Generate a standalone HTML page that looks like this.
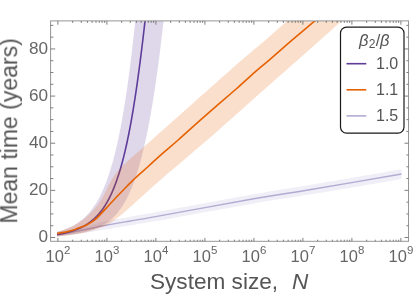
<!DOCTYPE html><html><head><meta charset="utf-8"><style>
html,body{margin:0;padding:0;background:#fff}
body{width:415px;height:296px;position:relative;overflow:hidden;font-family:"Liberation Sans",sans-serif;color:#666}
.t{position:absolute;white-space:nowrap;line-height:1;will-change:transform}
.yl{font-size:16.5px;text-align:right;width:40px;left:7.7px;transform-origin:100% 50%;transform:scaleX(1.04)}
.xl{font-size:16.5px;transform:translateX(-50%)}
.xl sup{font-size:11.5px;position:relative;top:-8.5px;vertical-align:baseline;margin-left:0px}
.ax{font-size:22.6px;color:#555}
.lg{font-size:16px;color:#555}
</style></head><body>
<svg width="415" height="296" viewBox="0 0 415 296" style="position:absolute;left:0;top:0">
<defs><clipPath id="c"><rect x="50.60" y="20.90" width="357.90" height="220.40"/></clipPath></defs>
<g clip-path="url(#c)">
<path d="M57.00,231.90 C60.83,231.25 72.52,229.65 80.00,228.00 C87.48,226.35 90.23,224.45 101.90,222.00 C113.57,219.55 124.69,217.92 150.00,213.30 C175.31,208.68 226.92,199.05 253.75,194.30 C280.58,189.55 286.38,188.98 311.00,184.80 C335.62,180.62 386.42,171.80 401.50,169.20 L401.50,178.90 C386.42,181.47 335.62,190.22 311.00,194.30 C286.38,198.38 280.58,198.78 253.75,203.40 C226.92,208.02 175.31,217.55 150.00,222.00 C124.69,226.45 113.57,228.13 101.90,230.10 C90.23,232.07 87.48,232.72 80.00,233.80 C72.52,234.88 60.83,236.13 57.00,236.60 Z" fill="#b2abd2" fill-opacity="0.2"/>
<path d="M57.10,234.70 C59.04,234.40 64.72,233.63 68.75,232.90 C72.78,232.17 77.08,231.15 81.25,230.30 C85.42,229.45 90.31,228.52 93.75,227.80 C97.19,227.08 96.69,226.98 101.90,226.00 C107.11,225.02 116.98,223.30 125.00,221.90 C133.02,220.50 128.54,221.45 150.00,217.60 C171.46,213.75 226.92,203.48 253.75,198.80 C280.58,194.12 286.38,193.63 311.00,189.50 C335.62,185.37 386.42,176.58 401.50,174.00" fill="none" stroke="#b2abd2" stroke-width="1.4"/>
<path d="M57.00,231.91 C57.08,231.89 57.33,231.82 57.50,231.78 C57.67,231.73 57.83,231.69 58.00,231.64 C58.17,231.59 58.33,231.54 58.50,231.50 C58.67,231.45 58.83,231.40 59.00,231.35 C59.17,231.30 59.33,231.25 59.50,231.20 C59.67,231.15 59.83,231.10 60.00,231.05 C60.17,231.00 60.33,230.95 60.50,230.89 C60.67,230.84 60.83,230.79 61.00,230.74 C61.17,230.68 61.33,230.63 61.50,230.57 C61.67,230.52 61.83,230.47 62.00,230.41 C62.17,230.35 62.33,230.30 62.50,230.24 C62.67,230.18 62.83,230.13 63.00,230.07 C63.17,230.01 63.33,229.95 63.50,229.89 C63.67,229.83 63.83,229.77 64.00,229.71 C64.17,229.65 64.33,229.59 64.50,229.53 C64.67,229.47 64.83,229.40 65.00,229.34 C65.17,229.28 65.33,229.21 65.50,229.15 C65.67,229.08 65.83,229.02 66.00,228.95 C66.17,228.89 66.33,228.82 66.50,228.75 C66.67,228.68 66.83,228.62 67.00,228.55 C67.17,228.48 67.33,228.41 67.50,228.34 C67.67,228.27 67.83,228.20 68.00,228.12 C68.17,228.05 68.33,227.98 68.50,227.90 C68.67,227.83 68.83,227.76 69.00,227.68 C69.17,227.60 69.33,227.53 69.50,227.45 C69.67,227.37 69.83,227.30 70.00,227.22 C70.17,227.14 70.33,227.06 70.50,226.98 C70.67,226.90 70.83,226.82 71.00,226.73 C71.17,226.65 71.33,226.57 71.50,226.48 C71.67,226.40 71.83,226.31 72.00,226.23 C72.17,226.14 72.33,226.05 72.50,225.96 C72.67,225.88 72.83,225.79 73.00,225.70 C73.17,225.61 73.33,225.52 73.50,225.42 C73.67,225.33 73.83,225.24 74.00,225.14 C74.17,225.05 74.33,224.95 74.50,224.86 C74.67,224.76 74.83,224.66 75.00,224.56 C75.17,224.46 75.33,224.36 75.50,224.26 C75.67,224.16 75.83,224.06 76.00,223.95 C76.17,223.85 76.33,223.75 76.50,223.64 C76.67,223.53 76.83,223.43 77.00,223.32 C77.17,223.21 77.33,223.10 77.50,222.99 C77.67,222.88 77.83,222.77 78.00,222.65 C78.17,222.54 78.33,222.42 78.50,222.31 C78.67,222.19 78.83,222.07 79.00,221.95 C79.17,221.84 79.33,221.71 79.50,221.59 C79.67,221.47 79.83,221.35 80.00,221.22 C80.17,221.10 80.33,220.97 80.50,220.84 C80.67,220.72 80.83,220.59 81.00,220.46 C81.17,220.33 81.33,220.19 81.50,220.06 C81.67,219.93 81.83,219.79 82.00,219.65 C82.17,219.52 82.33,219.38 82.50,219.24 C82.67,219.10 82.83,218.96 83.00,218.81 C83.17,218.67 83.33,218.52 83.50,218.38 C83.67,218.23 83.83,218.08 84.00,217.93 C84.17,217.78 84.33,217.63 84.50,217.47 C84.67,217.32 84.83,217.16 85.00,217.00 C85.17,216.85 85.33,216.69 85.50,216.52 C85.67,216.36 85.83,216.20 86.00,216.03 C86.17,215.87 86.33,215.70 86.50,215.53 C86.67,215.36 86.83,215.19 87.00,215.02 C87.17,214.84 87.33,214.67 87.50,214.49 C87.67,214.31 87.83,214.13 88.00,213.95 C88.17,213.77 88.33,213.58 88.50,213.40 C88.67,213.21 88.83,213.02 89.00,212.83 C89.17,212.64 89.33,212.44 89.50,212.25 C89.67,212.05 89.83,211.85 90.00,211.65 C90.17,211.45 90.33,211.25 90.50,211.04 C90.67,210.84 90.83,210.63 91.00,210.42 C91.17,210.21 91.33,210.00 91.50,209.78 C91.67,209.57 91.83,209.35 92.00,209.13 C92.17,208.91 92.33,208.68 92.50,208.46 C92.67,208.23 92.83,208.00 93.00,207.77 C93.17,207.54 93.33,207.30 93.50,207.06 C93.67,206.83 93.83,206.59 94.00,206.34 C94.17,206.10 94.33,205.85 94.50,205.60 C94.67,205.36 94.83,205.10 95.00,204.85 C95.17,204.59 95.33,204.33 95.50,204.07 C95.67,203.81 95.83,203.55 96.00,203.28 C96.17,203.01 96.33,202.74 96.50,202.46 C96.67,202.19 96.83,201.91 97.00,201.63 C97.17,201.35 97.33,201.06 97.50,200.77 C97.67,200.49 97.83,200.19 98.00,199.90 C98.17,199.60 98.33,199.30 98.50,199.00 C98.67,198.70 98.83,198.39 99.00,198.08 C99.17,197.77 99.33,197.46 99.50,197.14 C99.67,196.82 99.83,196.50 100.00,196.18 C100.17,195.85 100.33,195.52 100.50,195.19 C100.67,194.85 100.83,194.52 101.00,194.17 C101.17,193.83 101.33,193.49 101.50,193.14 C101.67,192.79 101.83,192.43 102.00,192.07 C102.17,191.71 102.33,191.35 102.50,190.98 C102.67,190.62 102.83,190.24 103.00,189.87 C103.17,189.49 103.33,189.11 103.50,188.72 C103.67,188.34 103.83,187.95 104.00,187.55 C104.17,187.16 104.33,186.76 104.50,186.35 C104.67,185.95 104.83,185.54 105.00,185.12 C105.17,184.71 105.33,184.29 105.50,183.86 C105.67,183.44 105.83,183.01 106.00,182.57 C106.17,182.14 106.33,181.70 106.50,181.25 C106.67,180.80 106.83,180.35 107.00,179.89 C107.17,179.44 107.33,178.97 107.50,178.51 C107.67,178.04 107.83,177.56 108.00,177.09 C108.17,176.61 108.33,176.12 108.50,175.63 C108.67,175.14 108.83,174.64 109.00,174.14 C109.17,173.63 109.33,173.13 109.50,172.61 C109.67,172.09 109.83,171.57 110.00,171.04 C110.17,170.52 110.33,169.98 110.50,169.44 C110.67,168.90 110.83,168.35 111.00,167.80 C111.17,167.25 111.33,166.69 111.50,166.12 C111.67,165.55 111.83,164.98 112.00,164.40 C112.17,163.82 112.33,163.23 112.50,162.63 C112.67,162.04 112.83,161.44 113.00,160.83 C113.17,160.22 113.33,159.60 113.50,158.98 C113.67,158.36 113.83,157.73 114.00,157.09 C114.17,156.45 114.33,155.80 114.50,155.15 C114.67,154.49 114.83,153.83 115.00,153.16 C115.17,152.49 115.33,151.82 115.50,151.13 C115.67,150.45 115.83,149.75 116.00,149.05 C116.17,148.35 116.33,147.64 116.50,146.92 C116.67,146.21 116.83,145.48 117.00,144.74 C117.17,144.01 117.33,143.27 117.50,142.51 C117.67,141.76 117.83,141.00 118.00,140.23 C118.17,139.46 118.33,138.68 118.50,137.89 C118.67,137.11 118.83,136.31 119.00,135.50 C119.17,134.70 119.33,133.88 119.50,133.06 C119.67,132.23 119.83,131.40 120.00,130.55 C120.17,129.71 120.33,128.86 120.50,127.99 C120.67,127.13 120.83,126.26 121.00,125.37 C121.17,124.49 121.33,123.60 121.50,122.69 C121.67,121.79 121.83,120.87 122.00,119.95 C122.17,119.03 122.33,118.09 122.50,117.15 C122.67,116.20 122.83,115.25 123.00,114.28 C123.17,113.31 123.33,112.33 123.50,111.35 C123.67,110.36 123.83,109.36 124.00,108.35 C124.17,107.34 124.33,106.32 124.50,105.28 C124.67,104.25 124.83,103.20 125.00,102.15 C125.17,101.09 125.33,100.02 125.50,98.95 C125.67,97.87 125.83,96.77 126.00,95.67 C126.17,94.57 126.33,93.45 126.50,92.33 C126.67,91.20 126.83,90.06 127.00,88.91 C127.17,87.75 127.33,86.59 127.50,85.41 C127.67,84.24 127.83,83.05 128.00,81.84 C128.17,80.64 128.33,79.43 128.50,78.20 C128.67,76.97 128.83,75.73 129.00,74.47 C129.17,73.22 129.33,71.95 129.50,70.67 C129.67,69.39 129.83,68.09 130.00,66.79 C130.17,65.48 130.33,64.16 130.50,62.82 C130.67,61.49 130.83,60.14 131.00,58.77 C131.17,57.41 131.33,56.03 131.50,54.64 C131.67,53.25 131.83,51.85 132.00,50.43 C132.17,49.01 132.33,47.57 132.50,46.12 C132.67,44.67 132.83,43.21 133.00,41.73 C133.17,40.25 133.33,38.76 133.50,37.25 C133.67,35.75 133.83,34.22 134.00,32.69 C134.17,31.15 134.33,29.60 134.50,28.03 C134.67,26.46 134.83,24.88 135.00,23.28 C135.17,21.68 135.33,20.06 135.50,18.44 C135.67,16.81 135.83,15.16 136.00,13.50 C136.17,11.84 136.42,9.31 136.50,8.47 L165.00,6.99 C164.92,7.80 164.67,10.21 164.50,11.80 C164.33,13.39 164.17,14.96 164.00,16.51 C163.83,18.07 163.67,19.61 163.50,21.14 C163.33,22.67 163.17,24.18 163.00,25.68 C162.83,27.18 162.67,28.66 162.50,30.13 C162.33,31.60 162.17,33.06 162.00,34.50 C161.83,35.95 161.67,37.37 161.50,38.79 C161.33,40.21 161.17,41.61 161.00,43.00 C160.83,44.39 160.67,45.77 160.50,47.13 C160.33,48.49 160.17,49.85 160.00,51.18 C159.83,52.52 159.67,53.85 159.50,55.16 C159.33,56.48 159.17,57.78 159.00,59.07 C158.83,60.36 158.67,61.63 158.50,62.90 C158.33,64.16 158.17,65.42 158.00,66.66 C157.83,67.90 157.67,69.13 157.50,70.35 C157.33,71.57 157.17,72.77 157.00,73.97 C156.83,75.16 156.67,76.35 156.50,77.52 C156.33,78.70 156.17,79.86 156.00,81.01 C155.83,82.16 155.67,83.30 155.50,84.43 C155.33,85.56 155.17,86.68 155.00,87.79 C154.83,88.89 154.67,89.99 154.50,91.08 C154.33,92.16 154.17,93.24 154.00,94.31 C153.83,95.37 153.67,96.43 153.50,97.48 C153.33,98.52 153.17,99.56 153.00,100.58 C152.83,101.61 152.67,102.63 152.50,103.63 C152.33,104.64 152.17,105.63 152.00,106.62 C151.83,107.61 151.67,108.58 151.50,109.55 C151.33,110.52 151.17,111.48 151.00,112.43 C150.83,113.38 150.67,114.32 150.50,115.25 C150.33,116.18 150.17,117.10 150.00,118.01 C149.83,118.92 149.67,119.82 149.50,120.72 C149.33,121.61 149.17,122.50 149.00,123.37 C148.83,124.25 148.67,125.12 148.50,125.97 C148.33,126.83 148.17,127.68 148.00,128.52 C147.83,129.37 147.67,130.20 147.50,131.02 C147.33,131.85 147.17,132.66 147.00,133.47 C146.83,134.28 146.67,135.08 146.50,135.87 C146.33,136.66 146.17,137.44 146.00,138.22 C145.83,138.99 145.67,139.76 145.50,140.52 C145.33,141.28 145.17,142.03 145.00,142.78 C144.83,143.52 144.67,144.25 144.50,144.98 C144.33,145.71 144.17,146.43 144.00,147.14 C143.83,147.86 143.67,148.56 143.50,149.26 C143.33,149.96 143.17,150.65 143.00,151.33 C142.83,152.01 142.67,152.69 142.50,153.36 C142.33,154.03 142.17,154.69 142.00,155.34 C141.83,156.00 141.67,156.64 141.50,157.29 C141.33,157.93 141.17,158.56 141.00,159.19 C140.83,159.81 140.67,160.43 140.50,161.04 C140.33,161.66 140.17,162.26 140.00,162.86 C139.83,163.46 139.67,164.06 139.50,164.64 C139.33,165.23 139.17,165.81 139.00,166.38 C138.83,166.96 138.67,167.52 138.50,168.08 C138.33,168.64 138.17,169.20 138.00,169.75 C137.83,170.30 137.67,170.84 137.50,171.37 C137.33,171.91 137.17,172.44 137.00,172.96 C136.83,173.49 136.67,174.01 136.50,174.52 C136.33,175.03 136.17,175.54 136.00,176.04 C135.83,176.54 135.67,177.03 135.50,177.52 C135.33,178.01 135.17,178.50 135.00,178.97 C134.83,179.45 134.67,179.92 134.50,180.39 C134.33,180.86 134.17,181.32 134.00,181.78 C133.83,182.23 133.67,182.68 133.50,183.13 C133.33,183.57 133.17,184.01 133.00,184.45 C132.83,184.89 132.67,185.32 132.50,185.74 C132.33,186.17 132.17,186.59 132.00,187.00 C131.83,187.42 131.67,187.83 131.50,188.23 C131.33,188.64 131.17,189.04 131.00,189.43 C130.83,189.83 130.67,190.22 130.50,190.61 C130.33,190.99 130.17,191.37 130.00,191.75 C129.83,192.13 129.67,192.50 129.50,192.87 C129.33,193.24 129.17,193.60 129.00,193.96 C128.83,194.32 128.67,194.67 128.50,195.03 C128.33,195.38 128.17,195.72 128.00,196.06 C127.83,196.41 127.67,196.74 127.50,197.08 C127.33,197.41 127.17,197.74 127.00,198.07 C126.83,198.39 126.67,198.72 126.50,199.03 C126.33,199.35 126.17,199.66 126.00,199.97 C125.83,200.28 125.67,200.59 125.50,200.89 C125.33,201.20 125.17,201.49 125.00,201.79 C124.83,202.08 124.67,202.37 124.50,202.66 C124.33,202.95 124.17,203.23 124.00,203.51 C123.83,203.79 123.67,204.07 123.50,204.35 C123.33,204.62 123.17,204.89 123.00,205.16 C122.83,205.42 122.67,205.69 122.50,205.95 C122.33,206.21 122.17,206.46 122.00,206.72 C121.83,206.97 121.67,207.22 121.50,207.47 C121.33,207.71 121.17,207.96 121.00,208.20 C120.83,208.44 120.67,208.68 120.50,208.91 C120.33,209.15 120.17,209.38 120.00,209.61 C119.83,209.84 119.67,210.06 119.50,210.29 C119.33,210.51 119.17,210.73 119.00,210.95 C118.83,211.16 118.67,211.38 118.50,211.59 C118.33,211.80 118.17,212.01 118.00,212.22 C117.83,212.43 117.67,212.63 117.50,212.83 C117.33,213.03 117.17,213.23 117.00,213.43 C116.83,213.62 116.67,213.82 116.50,214.01 C116.33,214.20 116.17,214.39 116.00,214.57 C115.83,214.76 115.67,214.94 115.50,215.13 C115.33,215.31 115.17,215.49 115.00,215.66 C114.83,215.84 114.67,216.02 114.50,216.19 C114.33,216.36 114.17,216.53 114.00,216.70 C113.83,216.87 113.67,217.03 113.50,217.20 C113.33,217.36 113.17,217.52 113.00,217.68 C112.83,217.84 112.67,218.00 112.50,218.15 C112.33,218.31 112.17,218.46 112.00,218.61 C111.83,218.76 111.67,218.91 111.50,219.06 C111.33,219.21 111.17,219.35 111.00,219.50 C110.83,219.64 110.67,219.78 110.50,219.92 C110.33,220.06 110.17,220.20 110.00,220.34 C109.83,220.47 109.67,220.61 109.50,220.74 C109.33,220.87 109.17,221.00 109.00,221.13 C108.83,221.26 108.67,221.39 108.50,221.52 C108.33,221.64 108.17,221.77 108.00,221.89 C107.83,222.01 107.67,222.13 107.50,222.25 C107.33,222.37 107.17,222.49 107.00,222.61 C106.83,222.73 106.67,222.84 106.50,222.95 C106.33,223.07 106.17,223.18 106.00,223.29 C105.83,223.40 105.67,223.51 105.50,223.62 C105.33,223.73 105.17,223.83 105.00,223.94 C104.83,224.04 104.67,224.15 104.50,224.25 C104.33,224.35 104.17,224.45 104.00,224.55 C103.83,224.65 103.67,224.75 103.50,224.85 C103.33,224.95 103.17,225.04 103.00,225.14 C102.83,225.23 102.67,225.33 102.50,225.42 C102.33,225.51 102.17,225.60 102.00,225.69 C101.83,225.78 101.67,225.87 101.50,225.96 C101.33,226.05 101.17,226.13 101.00,226.22 C100.83,226.31 100.67,226.39 100.50,226.47 C100.33,226.56 100.17,226.64 100.00,226.72 C99.83,226.80 99.67,226.88 99.50,226.96 C99.33,227.04 99.17,227.12 99.00,227.20 C98.83,227.27 98.67,227.35 98.50,227.43 C98.33,227.50 98.17,227.58 98.00,227.65 C97.83,227.72 97.67,227.80 97.50,227.87 C97.33,227.94 97.17,228.01 97.00,228.08 C96.83,228.15 96.67,228.22 96.50,228.29 C96.33,228.36 96.17,228.42 96.00,228.49 C95.83,228.56 95.67,228.62 95.50,228.69 C95.33,228.75 95.17,228.82 95.00,228.88 C94.83,228.94 94.67,229.01 94.50,229.07 C94.33,229.13 94.17,229.19 94.00,229.25 C93.83,229.31 93.67,229.37 93.50,229.43 C93.33,229.49 93.17,229.55 93.00,229.61 C92.83,229.66 92.67,229.72 92.50,229.78 C92.33,229.83 92.17,229.89 92.00,229.94 C91.83,230.00 91.67,230.05 91.50,230.11 C91.33,230.16 91.17,230.21 91.00,230.26 C90.83,230.32 90.67,230.37 90.50,230.42 C90.33,230.47 90.17,230.52 90.00,230.57 C89.83,230.62 89.67,230.67 89.50,230.72 C89.33,230.77 89.17,230.82 89.00,230.87 C88.83,230.91 88.67,230.96 88.50,231.01 C88.33,231.05 88.17,231.10 88.00,231.15 C87.83,231.19 87.67,231.24 87.50,231.28 C87.33,231.33 87.17,231.37 87.00,231.41 C86.83,231.46 86.67,231.50 86.50,231.54 C86.33,231.59 86.17,231.63 86.00,231.67 C85.83,231.71 85.67,231.76 85.50,231.80 C85.33,231.84 85.17,231.88 85.00,231.92 C84.83,231.96 84.67,232.00 84.50,232.04 C84.33,232.08 84.17,232.12 84.00,232.15 C83.83,232.19 83.67,232.23 83.50,232.27 C83.33,232.31 83.17,232.34 83.00,232.38 C82.83,232.42 82.67,232.46 82.50,232.49 C82.33,232.53 82.17,232.56 82.00,232.60 C81.83,232.64 81.67,232.67 81.50,232.71 C81.33,232.74 81.17,232.78 81.00,232.81 C80.83,232.85 80.67,232.88 80.50,232.91 C80.33,232.95 80.17,232.98 80.00,233.01 C79.83,233.05 79.67,233.08 79.50,233.11 C79.33,233.15 79.17,233.18 79.00,233.21 C78.83,233.24 78.67,233.27 78.50,233.31 C78.33,233.34 78.17,233.37 78.00,233.40 C77.83,233.43 77.67,233.46 77.50,233.49 C77.33,233.52 77.17,233.55 77.00,233.58 C76.83,233.61 76.67,233.64 76.50,233.67 C76.33,233.70 76.17,233.73 76.00,233.76 C75.83,233.79 75.67,233.82 75.50,233.85 C75.33,233.88 75.17,233.91 75.00,233.94 C74.83,233.96 74.67,233.99 74.50,234.02 C74.33,234.05 74.17,234.08 74.00,234.10 C73.83,234.13 73.67,234.16 73.50,234.19 C73.33,234.21 73.17,234.24 73.00,234.27 C72.83,234.30 72.67,234.32 72.50,234.35 C72.33,234.38 72.17,234.40 72.00,234.43 C71.83,234.46 71.67,234.48 71.50,234.51 C71.33,234.54 71.17,234.56 71.00,234.59 C70.83,234.61 70.67,234.64 70.50,234.67 C70.33,234.69 70.17,234.72 70.00,234.74 C69.83,234.77 69.67,234.79 69.50,234.82 C69.33,234.84 69.17,234.87 69.00,234.89 C68.83,234.92 68.67,234.94 68.50,234.97 C68.33,234.99 68.17,235.02 68.00,235.04 C67.83,235.07 67.67,235.09 67.50,235.12 C67.33,235.14 67.17,235.17 67.00,235.19 C66.83,235.22 66.67,235.24 66.50,235.26 C66.33,235.29 66.17,235.31 66.00,235.34 C65.83,235.36 65.67,235.39 65.50,235.41 C65.33,235.43 65.17,235.46 65.00,235.48 C64.83,235.50 64.67,235.53 64.50,235.55 C64.33,235.58 64.17,235.60 64.00,235.62 C63.83,235.65 63.67,235.67 63.50,235.69 C63.33,235.72 63.17,235.74 63.00,235.77 C62.83,235.79 62.67,235.81 62.50,235.84 C62.33,235.86 62.17,235.88 62.00,235.91 C61.83,235.93 61.67,235.95 61.50,235.98 C61.33,236.00 61.17,236.02 61.00,236.05 C60.83,236.07 60.67,236.09 60.50,236.12 C60.33,236.14 60.17,236.16 60.00,236.19 C59.83,236.21 59.67,236.23 59.50,236.25 C59.33,236.28 59.17,236.30 59.00,236.32 C58.83,236.35 58.67,236.37 58.50,236.39 C58.33,236.42 58.17,236.44 58.00,236.46 C57.83,236.48 57.67,236.51 57.50,236.53 C57.33,236.55 57.08,236.59 57.00,236.60 Z" fill="#5e3c99" fill-opacity="0.2"/>
<path d="M57.10,234.60 C57.18,234.58 57.43,234.54 57.60,234.51 C57.77,234.49 57.93,234.46 58.10,234.43 C58.27,234.40 58.43,234.37 58.60,234.34 C58.77,234.31 58.93,234.28 59.10,234.25 C59.27,234.22 59.43,234.19 59.60,234.16 C59.77,234.13 59.93,234.10 60.10,234.07 C60.27,234.04 60.43,234.01 60.60,233.98 C60.77,233.94 60.93,233.91 61.10,233.88 C61.27,233.85 61.43,233.81 61.60,233.78 C61.77,233.75 61.93,233.71 62.10,233.68 C62.27,233.65 62.43,233.61 62.60,233.58 C62.77,233.54 62.93,233.51 63.10,233.47 C63.27,233.44 63.43,233.40 63.60,233.36 C63.77,233.33 63.93,233.29 64.10,233.25 C64.27,233.22 64.43,233.18 64.60,233.14 C64.77,233.10 64.93,233.06 65.10,233.02 C65.27,232.99 65.43,232.95 65.60,232.91 C65.77,232.87 65.93,232.83 66.10,232.79 C66.27,232.74 66.43,232.70 66.60,232.66 C66.77,232.62 66.93,232.58 67.10,232.54 C67.27,232.49 67.43,232.45 67.60,232.41 C67.77,232.36 67.93,232.32 68.10,232.28 C68.27,232.23 68.43,232.19 68.60,232.14 C68.77,232.10 68.93,232.05 69.10,232.00 C69.27,231.96 69.43,231.91 69.60,231.86 C69.77,231.81 69.93,231.77 70.10,231.72 C70.27,231.67 70.43,231.62 70.60,231.57 C70.77,231.52 70.93,231.47 71.10,231.42 C71.27,231.37 71.43,231.32 71.60,231.27 C71.77,231.21 71.93,231.16 72.10,231.11 C72.27,231.06 72.43,231.00 72.60,230.95 C72.77,230.89 72.93,230.84 73.10,230.78 C73.27,230.73 73.43,230.67 73.60,230.61 C73.77,230.56 73.93,230.50 74.10,230.44 C74.27,230.38 74.43,230.32 74.60,230.27 C74.77,230.21 74.93,230.15 75.10,230.08 C75.27,230.02 75.43,229.96 75.60,229.90 C75.77,229.84 75.93,229.77 76.10,229.71 C76.27,229.65 76.43,229.58 76.60,229.52 C76.77,229.45 76.93,229.39 77.10,229.32 C77.27,229.25 77.43,229.19 77.60,229.12 C77.77,229.05 77.93,228.98 78.10,228.91 C78.27,228.84 78.43,228.77 78.60,228.70 C78.77,228.63 78.93,228.55 79.10,228.48 C79.27,228.41 79.43,228.33 79.60,228.26 C79.77,228.18 79.93,228.11 80.10,228.03 C80.27,227.96 80.43,227.88 80.60,227.80 C80.77,227.72 80.93,227.64 81.10,227.56 C81.27,227.48 81.43,227.40 81.60,227.32 C81.77,227.23 81.93,227.15 82.10,227.07 C82.27,226.98 82.43,226.90 82.60,226.81 C82.77,226.73 82.93,226.64 83.10,226.55 C83.27,226.46 83.43,226.37 83.60,226.28 C83.77,226.19 83.93,226.10 84.10,226.01 C84.27,225.91 84.43,225.82 84.60,225.73 C84.77,225.63 84.93,225.53 85.10,225.44 C85.27,225.34 85.43,225.24 85.60,225.14 C85.77,225.04 85.93,224.94 86.10,224.84 C86.27,224.74 86.43,224.63 86.60,224.53 C86.77,224.43 86.93,224.32 87.10,224.21 C87.27,224.11 87.43,224.00 87.60,223.89 C87.77,223.78 87.93,223.67 88.10,223.55 C88.27,223.44 88.43,223.33 88.60,223.21 C88.77,223.10 88.93,222.98 89.10,222.86 C89.27,222.74 89.43,222.62 89.60,222.50 C89.77,222.38 89.93,222.26 90.10,222.14 C90.27,222.01 90.43,221.89 90.60,221.76 C90.77,221.63 90.93,221.50 91.10,221.37 C91.27,221.24 91.43,221.11 91.60,220.98 C91.77,220.84 91.93,220.71 92.10,220.57 C92.27,220.43 92.43,220.30 92.60,220.16 C92.77,220.02 92.93,219.87 93.10,219.73 C93.27,219.59 93.43,219.44 93.60,219.29 C93.77,219.14 93.93,219.00 94.10,218.84 C94.27,218.69 94.43,218.54 94.60,218.38 C94.77,218.23 94.93,218.07 95.10,217.91 C95.27,217.75 95.43,217.59 95.60,217.43 C95.77,217.27 95.93,217.10 96.10,216.93 C96.27,216.77 96.43,216.60 96.60,216.43 C96.77,216.25 96.93,216.08 97.10,215.90 C97.27,215.73 97.43,215.55 97.60,215.37 C97.77,215.19 97.93,215.01 98.10,214.82 C98.27,214.64 98.43,214.45 98.60,214.26 C98.77,214.07 98.93,213.88 99.10,213.68 C99.27,213.49 99.43,213.29 99.60,213.09 C99.77,212.89 99.93,212.69 100.10,212.48 C100.27,212.28 100.43,212.07 100.60,211.86 C100.77,211.65 100.93,211.44 101.10,211.22 C101.27,211.01 101.43,210.79 101.60,210.57 C101.77,210.35 101.93,210.12 102.10,209.90 C102.27,209.67 102.43,209.44 102.60,209.21 C102.77,208.98 102.93,208.74 103.10,208.50 C103.27,208.26 103.43,208.02 103.60,207.78 C103.77,207.53 103.93,207.28 104.10,207.03 C104.27,206.78 104.43,206.53 104.60,206.27 C104.77,206.01 104.93,205.75 105.10,205.49 C105.27,205.22 105.43,204.96 105.60,204.68 C105.77,204.41 105.93,204.14 106.10,203.86 C106.27,203.58 106.43,203.30 106.60,203.02 C106.77,202.73 106.93,202.44 107.10,202.15 C107.27,201.86 107.43,201.56 107.60,201.26 C107.77,200.96 107.93,200.66 108.10,200.35 C108.27,200.04 108.43,199.73 108.60,199.41 C108.77,199.10 108.93,198.78 109.10,198.45 C109.27,198.13 109.43,197.80 109.60,197.47 C109.77,197.14 109.93,196.80 110.10,196.46 C110.27,196.12 110.43,195.77 110.60,195.42 C110.77,195.07 110.93,194.72 111.10,194.36 C111.27,194.00 111.43,193.64 111.60,193.27 C111.77,192.90 111.93,192.53 112.10,192.15 C112.27,191.78 112.43,191.39 112.60,191.01 C112.77,190.62 112.93,190.23 113.10,189.83 C113.27,189.44 113.43,189.03 113.60,188.63 C113.77,188.22 113.93,187.81 114.10,187.39 C114.27,186.97 114.43,186.55 114.60,186.12 C114.77,185.70 114.93,185.26 115.10,184.82 C115.27,184.39 115.43,183.94 115.60,183.49 C115.77,183.04 115.93,182.59 116.10,182.13 C116.27,181.67 116.43,181.20 116.60,180.73 C116.77,180.25 116.93,179.78 117.10,179.29 C117.27,178.81 117.43,178.32 117.60,177.82 C117.77,177.32 117.93,176.82 118.10,176.31 C118.27,175.80 118.43,175.29 118.60,174.77 C118.77,174.25 118.93,173.72 119.10,173.18 C119.27,172.65 119.43,172.11 119.60,171.56 C119.77,171.01 119.93,170.46 120.10,169.90 C120.27,169.34 120.43,168.77 120.60,168.20 C120.77,167.62 120.93,167.04 121.10,166.45 C121.27,165.86 121.43,165.27 121.60,164.67 C121.77,164.06 121.93,163.45 122.10,162.84 C122.27,162.22 122.43,161.59 122.60,160.96 C122.77,160.33 122.93,159.69 123.10,159.04 C123.27,158.40 123.43,157.74 123.60,157.08 C123.77,156.42 123.93,155.75 124.10,155.07 C124.27,154.39 124.43,153.71 124.60,153.01 C124.77,152.32 124.93,151.62 125.10,150.91 C125.27,150.20 125.43,149.48 125.60,148.75 C125.77,148.02 125.93,147.29 126.10,146.55 C126.27,145.80 126.43,145.05 126.60,144.29 C126.77,143.53 126.93,142.76 127.10,141.98 C127.27,141.21 127.43,140.42 127.60,139.63 C127.77,138.83 127.93,138.03 128.10,137.21 C128.27,136.40 128.43,135.58 128.60,134.75 C128.77,133.92 128.93,133.08 129.10,132.23 C129.27,131.38 129.43,130.52 129.60,129.65 C129.77,128.79 129.93,127.91 130.10,127.02 C130.27,126.14 130.43,125.24 130.60,124.34 C130.77,123.43 130.93,122.52 131.10,121.59 C131.27,120.67 131.43,119.73 131.60,118.79 C131.77,117.85 131.93,116.89 132.10,115.93 C132.27,114.97 132.43,113.99 132.60,113.01 C132.77,112.03 132.93,111.03 133.10,110.03 C133.27,109.03 133.43,108.01 133.60,106.99 C133.77,105.97 133.93,104.93 134.10,103.89 C134.27,102.85 134.43,101.79 134.60,100.73 C134.77,99.67 134.93,98.59 135.10,97.51 C135.27,96.42 135.43,95.33 135.60,94.23 C135.77,93.12 135.93,92.01 136.10,90.88 C136.27,89.75 136.43,88.62 136.60,87.47 C136.77,86.33 136.93,85.17 137.10,84.00 C137.27,82.84 137.43,81.66 137.60,80.47 C137.77,79.28 137.93,78.08 138.10,76.88 C138.27,75.67 138.43,74.45 138.60,73.22 C138.77,71.99 138.93,70.75 139.10,69.50 C139.27,68.25 139.43,66.99 139.60,65.72 C139.77,64.45 139.93,63.17 140.10,61.88 C140.27,60.58 140.43,59.28 140.60,57.97 C140.77,56.66 140.93,55.34 141.10,54.01 C141.27,52.67 141.43,51.33 141.60,49.98 C141.77,48.63 141.93,47.27 142.10,45.90 C142.27,44.52 142.43,43.14 142.60,41.75 C142.77,40.36 142.93,38.96 143.10,37.55 C143.27,36.14 143.43,34.72 143.60,33.29 C143.77,31.86 143.93,30.42 144.10,28.97 C144.27,27.53 144.43,26.07 144.60,24.60 C144.77,23.14 144.93,21.66 145.10,20.18 C145.27,18.70 145.43,17.20 145.60,15.70 C145.77,14.20 145.93,12.69 146.10,11.18 C146.27,9.66 146.52,7.36 146.60,6.60" fill="none" stroke="#5e3c99" stroke-width="1.6"/>
<path d="M57.00,231.90 C59.17,231.18 65.18,230.02 70.00,227.60 C74.82,225.18 80.90,221.70 85.90,217.40 C90.90,213.10 95.73,208.03 100.00,201.80 C104.27,195.57 107.75,185.97 111.50,180.00 C115.25,174.03 116.08,172.42 122.50,166.00 C128.92,159.58 139.47,150.87 150.00,141.50 C160.53,132.13 173.30,120.83 185.70,109.80 C198.10,98.77 215.35,83.37 224.40,75.30 C233.45,67.23 232.80,67.58 240.00,61.40 C247.20,55.22 259.73,44.95 267.60,38.20 C275.47,31.45 282.13,25.43 287.20,20.90 C292.27,16.37 296.20,12.65 298.00,11.00 L353.00,11.00 C351.12,12.65 349.22,14.23 341.70,20.90 C334.18,27.57 323.85,36.87 307.90,51.00 C291.95,65.13 263.65,90.10 246.00,105.70 C228.35,121.30 215.92,132.52 202.00,144.60 C188.08,156.68 170.92,171.00 162.50,178.20 C154.08,185.40 155.82,183.97 151.50,187.80 C147.18,191.63 141.08,197.17 136.60,201.20 C132.12,205.23 128.72,208.53 124.60,212.00 C120.48,215.47 116.00,219.33 111.90,222.00 C107.80,224.67 105.32,226.07 100.00,228.00 C94.68,229.93 87.17,232.17 80.00,233.60 C72.83,235.03 60.83,236.10 57.00,236.60 Z" fill="#e66101" fill-opacity="0.2"/>
<path d="M57.10,233.30 C58.00,233.17 60.56,232.85 62.50,232.50 C64.44,232.15 66.67,231.72 68.75,231.20 C70.83,230.68 72.92,230.08 75.00,229.40 C77.08,228.72 79.17,227.92 81.25,227.10 C83.33,226.28 84.96,225.97 87.50,224.50 C90.04,223.03 92.75,221.72 96.50,218.30 C100.25,214.88 105.90,208.33 110.00,204.00 C114.10,199.67 117.33,196.20 121.10,192.30 C124.87,188.40 128.08,184.90 132.60,180.60 C137.12,176.30 143.30,170.97 148.20,166.50 C153.10,162.03 157.00,158.22 162.00,153.80 C167.00,149.38 171.53,145.87 178.20,140.00 C184.87,134.13 192.53,126.93 202.00,118.60 C211.47,110.27 226.78,97.22 235.00,90.00 C243.22,82.78 245.47,80.42 251.30,75.30 C257.13,70.18 263.22,65.15 270.00,59.30 C276.78,53.45 284.53,46.60 292.00,40.20 C299.47,33.80 309.13,25.77 314.80,20.90 C320.47,16.03 324.13,12.65 326.00,11.00" fill="none" stroke="#e66101" stroke-width="1.6"/>
</g>
<rect x="50.60" y="20.90" width="357.90" height="220.40" fill="none" stroke="#969696" stroke-width="1"/>
<path d="M50.60,237.50 h4.60 M408.50,237.50 h-4.00 M50.60,225.72 h2.80 M408.50,225.72 h-2.10 M50.60,213.93 h2.80 M408.50,213.93 h-2.10 M50.60,202.14 h2.80 M408.50,202.14 h-2.10 M50.60,190.36 h4.60 M408.50,190.36 h-4.00 M50.60,178.57 h2.80 M408.50,178.57 h-2.10 M50.60,166.79 h2.80 M408.50,166.79 h-2.10 M50.60,155.00 h2.80 M408.50,155.00 h-2.10 M50.60,143.22 h4.60 M408.50,143.22 h-4.00 M50.60,131.44 h2.80 M408.50,131.44 h-2.10 M50.60,119.65 h2.80 M408.50,119.65 h-2.10 M50.60,107.86 h2.80 M408.50,107.86 h-2.10 M50.60,96.08 h4.60 M408.50,96.08 h-4.00 M50.60,84.29 h2.80 M408.50,84.29 h-2.10 M50.60,72.51 h2.80 M408.50,72.51 h-2.10 M50.60,60.72 h2.80 M408.50,60.72 h-2.10 M50.60,48.94 h4.60 M408.50,48.94 h-4.00 M50.60,37.15 h2.80 M408.50,37.15 h-2.10 M50.60,25.37 h2.80 M408.50,25.37 h-2.10 M57.90,241.30 v-3.40 M57.90,20.90 v3.80 M72.65,241.30 v-1.60 M72.65,20.90 v2.00 M81.28,241.30 v-1.60 M81.28,20.90 v2.00 M87.40,241.30 v-1.60 M87.40,20.90 v2.00 M92.15,241.30 v-1.60 M92.15,20.90 v2.00 M96.03,241.30 v-1.60 M96.03,20.90 v2.00 M99.31,241.30 v-1.60 M99.31,20.90 v2.00 M102.15,241.30 v-1.60 M102.15,20.90 v2.00 M104.66,241.30 v-1.60 M104.66,20.90 v2.00 M106.90,241.30 v-3.40 M106.90,20.90 v3.80 M121.65,241.30 v-1.60 M121.65,20.90 v2.00 M130.28,241.30 v-1.60 M130.28,20.90 v2.00 M136.40,241.30 v-1.60 M136.40,20.90 v2.00 M141.15,241.30 v-1.60 M141.15,20.90 v2.00 M145.03,241.30 v-1.60 M145.03,20.90 v2.00 M148.31,241.30 v-1.60 M148.31,20.90 v2.00 M151.15,241.30 v-1.60 M151.15,20.90 v2.00 M153.66,241.30 v-1.60 M153.66,20.90 v2.00 M155.90,241.30 v-3.40 M155.90,20.90 v3.80 M170.65,241.30 v-1.60 M170.65,20.90 v2.00 M179.28,241.30 v-1.60 M179.28,20.90 v2.00 M185.40,241.30 v-1.60 M185.40,20.90 v2.00 M190.15,241.30 v-1.60 M190.15,20.90 v2.00 M194.03,241.30 v-1.60 M194.03,20.90 v2.00 M197.31,241.30 v-1.60 M197.31,20.90 v2.00 M200.15,241.30 v-1.60 M200.15,20.90 v2.00 M202.66,241.30 v-1.60 M202.66,20.90 v2.00 M204.90,241.30 v-3.40 M204.90,20.90 v3.80 M219.65,241.30 v-1.60 M219.65,20.90 v2.00 M228.28,241.30 v-1.60 M228.28,20.90 v2.00 M234.40,241.30 v-1.60 M234.40,20.90 v2.00 M239.15,241.30 v-1.60 M239.15,20.90 v2.00 M243.03,241.30 v-1.60 M243.03,20.90 v2.00 M246.31,241.30 v-1.60 M246.31,20.90 v2.00 M249.15,241.30 v-1.60 M249.15,20.90 v2.00 M251.66,241.30 v-1.60 M251.66,20.90 v2.00 M253.90,241.30 v-3.40 M253.90,20.90 v3.80 M268.65,241.30 v-1.60 M268.65,20.90 v2.00 M277.28,241.30 v-1.60 M277.28,20.90 v2.00 M283.40,241.30 v-1.60 M283.40,20.90 v2.00 M288.15,241.30 v-1.60 M288.15,20.90 v2.00 M292.03,241.30 v-1.60 M292.03,20.90 v2.00 M295.31,241.30 v-1.60 M295.31,20.90 v2.00 M298.15,241.30 v-1.60 M298.15,20.90 v2.00 M300.66,241.30 v-1.60 M300.66,20.90 v2.00 M302.90,241.30 v-3.40 M302.90,20.90 v3.80 M317.65,241.30 v-1.60 M317.65,20.90 v2.00 M326.28,241.30 v-1.60 M326.28,20.90 v2.00 M332.40,241.30 v-1.60 M332.40,20.90 v2.00 M337.15,241.30 v-1.60 M337.15,20.90 v2.00 M341.03,241.30 v-1.60 M341.03,20.90 v2.00 M344.31,241.30 v-1.60 M344.31,20.90 v2.00 M347.15,241.30 v-1.60 M347.15,20.90 v2.00 M349.66,241.30 v-1.60 M349.66,20.90 v2.00 M351.90,241.30 v-3.40 M351.90,20.90 v3.80 M366.65,241.30 v-1.60 M366.65,20.90 v2.00 M375.28,241.30 v-1.60 M375.28,20.90 v2.00 M381.40,241.30 v-1.60 M381.40,20.90 v2.00 M386.15,241.30 v-1.60 M386.15,20.90 v2.00 M390.03,241.30 v-1.60 M390.03,20.90 v2.00 M393.31,241.30 v-1.60 M393.31,20.90 v2.00 M396.15,241.30 v-1.60 M396.15,20.90 v2.00 M398.66,241.30 v-1.60 M398.66,20.90 v2.00 M400.90,241.30 v-3.40 M400.90,20.90 v3.80" fill="none" stroke="#727272" stroke-width="0.9"/>
<rect x="340.5" y="27.1" width="63.5" height="106" rx="6" ry="6" fill="#fff" stroke="#1a1a1a" stroke-width="1.2"/>
<path d="M346.5,63.70 H366.3" stroke="#5e3c99" stroke-width="1.6"/>
<path d="M346.5,89.80 H366.3" stroke="#e66101" stroke-width="1.6"/>
<path d="M346.5,115.90 H366.3" stroke="#b2abd2" stroke-width="1.6"/>
</svg>
<div class="t yl" style="top:228.10px">0</div>
<div class="t yl" style="top:180.96px">20</div>
<div class="t yl" style="top:133.82px">40</div>
<div class="t yl" style="top:86.68px">60</div>
<div class="t yl" style="top:39.54px">80</div>
<div class="t xl" style="left:58.20px;top:248.3px">10<sup>2</sup></div>
<div class="t xl" style="left:107.20px;top:248.3px">10<sup>3</sup></div>
<div class="t xl" style="left:156.20px;top:248.3px">10<sup>4</sup></div>
<div class="t xl" style="left:205.20px;top:248.3px">10<sup>5</sup></div>
<div class="t xl" style="left:254.20px;top:248.3px">10<sup>6</sup></div>
<div class="t xl" style="left:303.20px;top:248.3px">10<sup>7</sup></div>
<div class="t xl" style="left:352.20px;top:248.3px">10<sup>8</sup></div>
<div class="t xl" style="left:401.20px;top:248.3px">10<sup>9</sup></div>
<div class="t ax" style="left:150px;top:270.8px">System size,</div>
<div class="t ax" style="left:292px;top:270.8px;font-style:italic">N</div>
<div class="t ax" style="left:0;top:0;transform-origin:0 0;font-size:23px;transform:translate(-1.8px,223.6px) rotate(-90deg)">Mean time (years)</div>
<div class="t lg" style="left:358.7px;top:32.3px;font-style:italic;font-size:16.5px">β<span style="font-style:normal;font-size:12px;position:relative;top:2.2px;margin:0 0.3px 0 0.2px">2</span><span style="font-style:normal;margin:0 -0.3px 0 0.2px">/</span>β</div>
<div class="t lg" style="left:376.4px;top:55.50px">1.0</div>
<div class="t lg" style="left:376.4px;top:81.60px">1.1</div>
<div class="t lg" style="left:376.4px;top:108.00px">1.5</div>
</body></html>
